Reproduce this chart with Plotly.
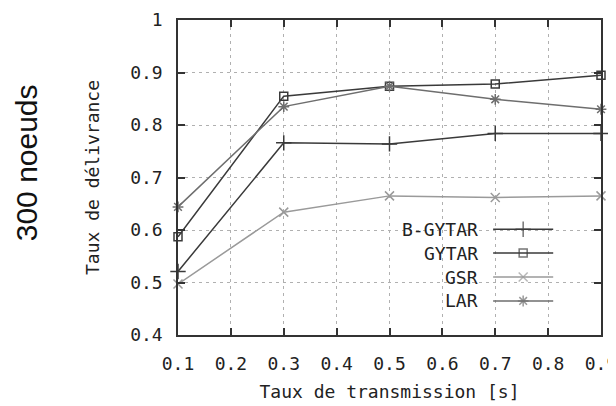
import plotly.graph_objects as go

x_vals = [0.1, 0.3, 0.5, 0.7, 0.9]
b_gytar = [0.521, 0.766, 0.764, 0.784, 0.784]
gytar = [0.587, 0.855, 0.874, 0.878, 0.895]
gsr = [0.497, 0.634, 0.665, 0.662, 0.665]
lar = [0.644, 0.835, 0.874, 0.849, 0.830]

series_names = ["B-GYTAR", "GYTAR", "GSR", "LAR"]
series_values = [b_gytar, gytar, gsr, lar]
series_colors = ["#3a3a3a", "#3a3a3a", "#9a9a9a", "#6e6e6e"]
series_symbols = ["cross-thin-open", "square-open", "x-thin-open", "asterisk-open"]
series_sizes = [11, 8, 9, 9]

x_ticks = [0.1, 0.2, 0.3, 0.4, 0.5, 0.6, 0.7, 0.8, 0.9]
x_tick_labels = ["0.1", "0.2", "0.3", "0.4", "0.5", "0.6", "0.7", "0.8", "0.9"]
y_ticks = [0.4, 0.5, 0.6, 0.7, 0.8, 0.9, 1.0]
y_tick_labels = ["0.4", "0.5", "0.6", "0.7", "0.8", "0.9", "1"]

MONO = "DejaVu Sans Mono"
fig = go.Figure()

for name, vals, col, sym, sz in zip(series_names, series_values, series_colors, series_symbols, series_sizes):
    fig.add_trace(go.Scatter(
        x=x_vals, y=vals, mode="lines+markers", name=name, showlegend=False,
        line=dict(color=col, width=1.5),
        marker=dict(symbol=sym, size=sz, color=col, line=dict(color=col, width=1.5)),
        cliponaxis=False,
    ))

# custom legend (gnuplot style: label then sample)
row_y = [0.3356, 0.260, 0.184, 0.108]
leg_x0, leg_x1, leg_xm, txt_x = 0.745, 0.887, 0.816, 0.714
shapes = [dict(type="rect", xref="paper", yref="paper", x0=0.50, x1=0.893, y0=0.07, y1=0.375,
               fillcolor="white", line=dict(width=0), layer="between")]
annotations = []
for name, ry, col in zip(series_names, row_y, series_colors):
    shapes.append(dict(type="line", xref="paper", yref="paper", x0=leg_x0, x1=leg_x1, y0=ry, y1=ry,
                       line=dict(color=col, width=1.5), layer="above"))
    annotations.append(dict(text=name, xref="paper", yref="paper", x=txt_x, y=ry, xanchor="right",
                            yanchor="middle", showarrow=False, font=dict(family=MONO, size=18, color="#222")))
fig.add_trace(go.Scatter(
    x=[leg_xm] * 4, y=row_y, xaxis="x2", yaxis="y2", mode="markers", showlegend=False,
    marker=dict(symbol=series_symbols, size=series_sizes, color=series_colors,
                line=dict(color=series_colors, width=1.5)),
    hoverinfo="skip",
))

annotations.append(dict(text="300 noeuds", xref="paper", yref="paper", x=-0.358, y=0.547,
                        xanchor="center", yanchor="middle", textangle=-90, showarrow=False,
                        font=dict(family="Liberation Sans", size=30, color="#111")))

axis_common = dict(showline=True, linecolor="#333", linewidth=1.5, mirror="allticks",
                   ticks="inside", ticklen=7, tickcolor="#333", tickwidth=1.5,
                   showgrid=True, gridcolor="#b0b0b0", griddash="3px,4px", gridwidth=1,
                   zeroline=False, tickfont=dict(family=MONO, size=18, color="#222"),
                   ticklabeloverflow="allow", automargin=False)

# page body has an 8px default margin, so the figure is sized/offset to compensate
fig.update_layout(
    width=608, height=398,
    margin=dict(l=170, r=15, t=12, b=71, autoexpand=False),
    paper_bgcolor="white", plot_bgcolor="white",
    xaxis=dict(range=[0.1, 0.9], tickvals=x_ticks, ticktext=x_tick_labels, ticklabelstandoff=12,
               title=dict(text="Taux de transmission [s]", standoff=12,
                          font=dict(family=MONO, size=18, color="#222")), **axis_common),
    yaxis=dict(range=[0.4, 1.0], tickvals=y_ticks, ticktext=y_tick_labels, ticklabelstandoff=10,
               title=dict(text="Taux de délivrance", standoff=26,
                          font=dict(family=MONO, size=18, color="#222")), **axis_common),
    xaxis2=dict(overlaying="x", range=[0, 1], visible=False, fixedrange=True),
    yaxis2=dict(overlaying="y", range=[0, 1], visible=False, fixedrange=True),
    shapes=shapes, annotations=annotations,
)

fig.write_html("out.html")
